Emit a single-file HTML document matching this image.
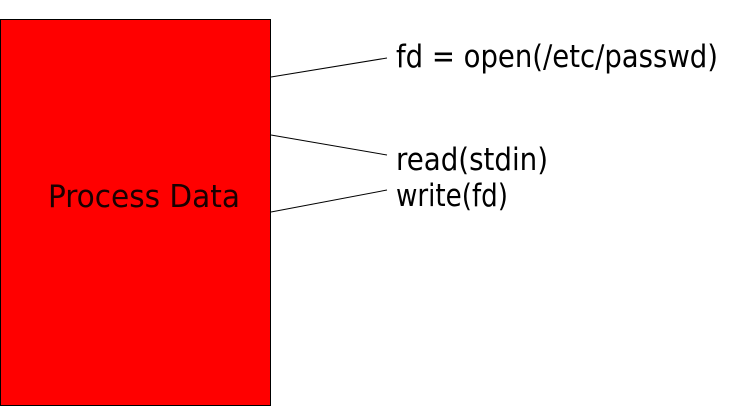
<!DOCTYPE html>
<html><head><style>html,body{margin:0;padding:0;background:#fff;}svg{display:block}</style></head>
<body>
<svg width="732" height="407" xmlns="http://www.w3.org/2000/svg" font-family="DejaVu Sans Condensed, DejaVu Sans, Liberation Sans, sans-serif" font-size="31">
<rect x="0.5" y="19.5" width="270" height="386" fill="#ff0000" stroke="#000" stroke-width="1"/>
<line x1="271" y1="77" x2="387" y2="58" stroke="#000" stroke-width="1"/>
<line x1="271" y1="135" x2="387" y2="155" stroke="#000" stroke-width="1"/>
<line x1="271" y1="212" x2="387" y2="190" stroke="#000" stroke-width="1"/>
<text x="396" y="67" textLength="322" lengthAdjust="spacingAndGlyphs">fd = open(/etc/passwd)</text>
<text x="396" y="170" textLength="152" lengthAdjust="spacingAndGlyphs">read(stdin)</text>
<text x="396" y="206" textLength="112" lengthAdjust="spacingAndGlyphs">write(fd)</text>
<text x="48" y="207" textLength="192" lengthAdjust="spacingAndGlyphs" fill="#1a0000">Process Data</text>
</svg>
</body></html>
